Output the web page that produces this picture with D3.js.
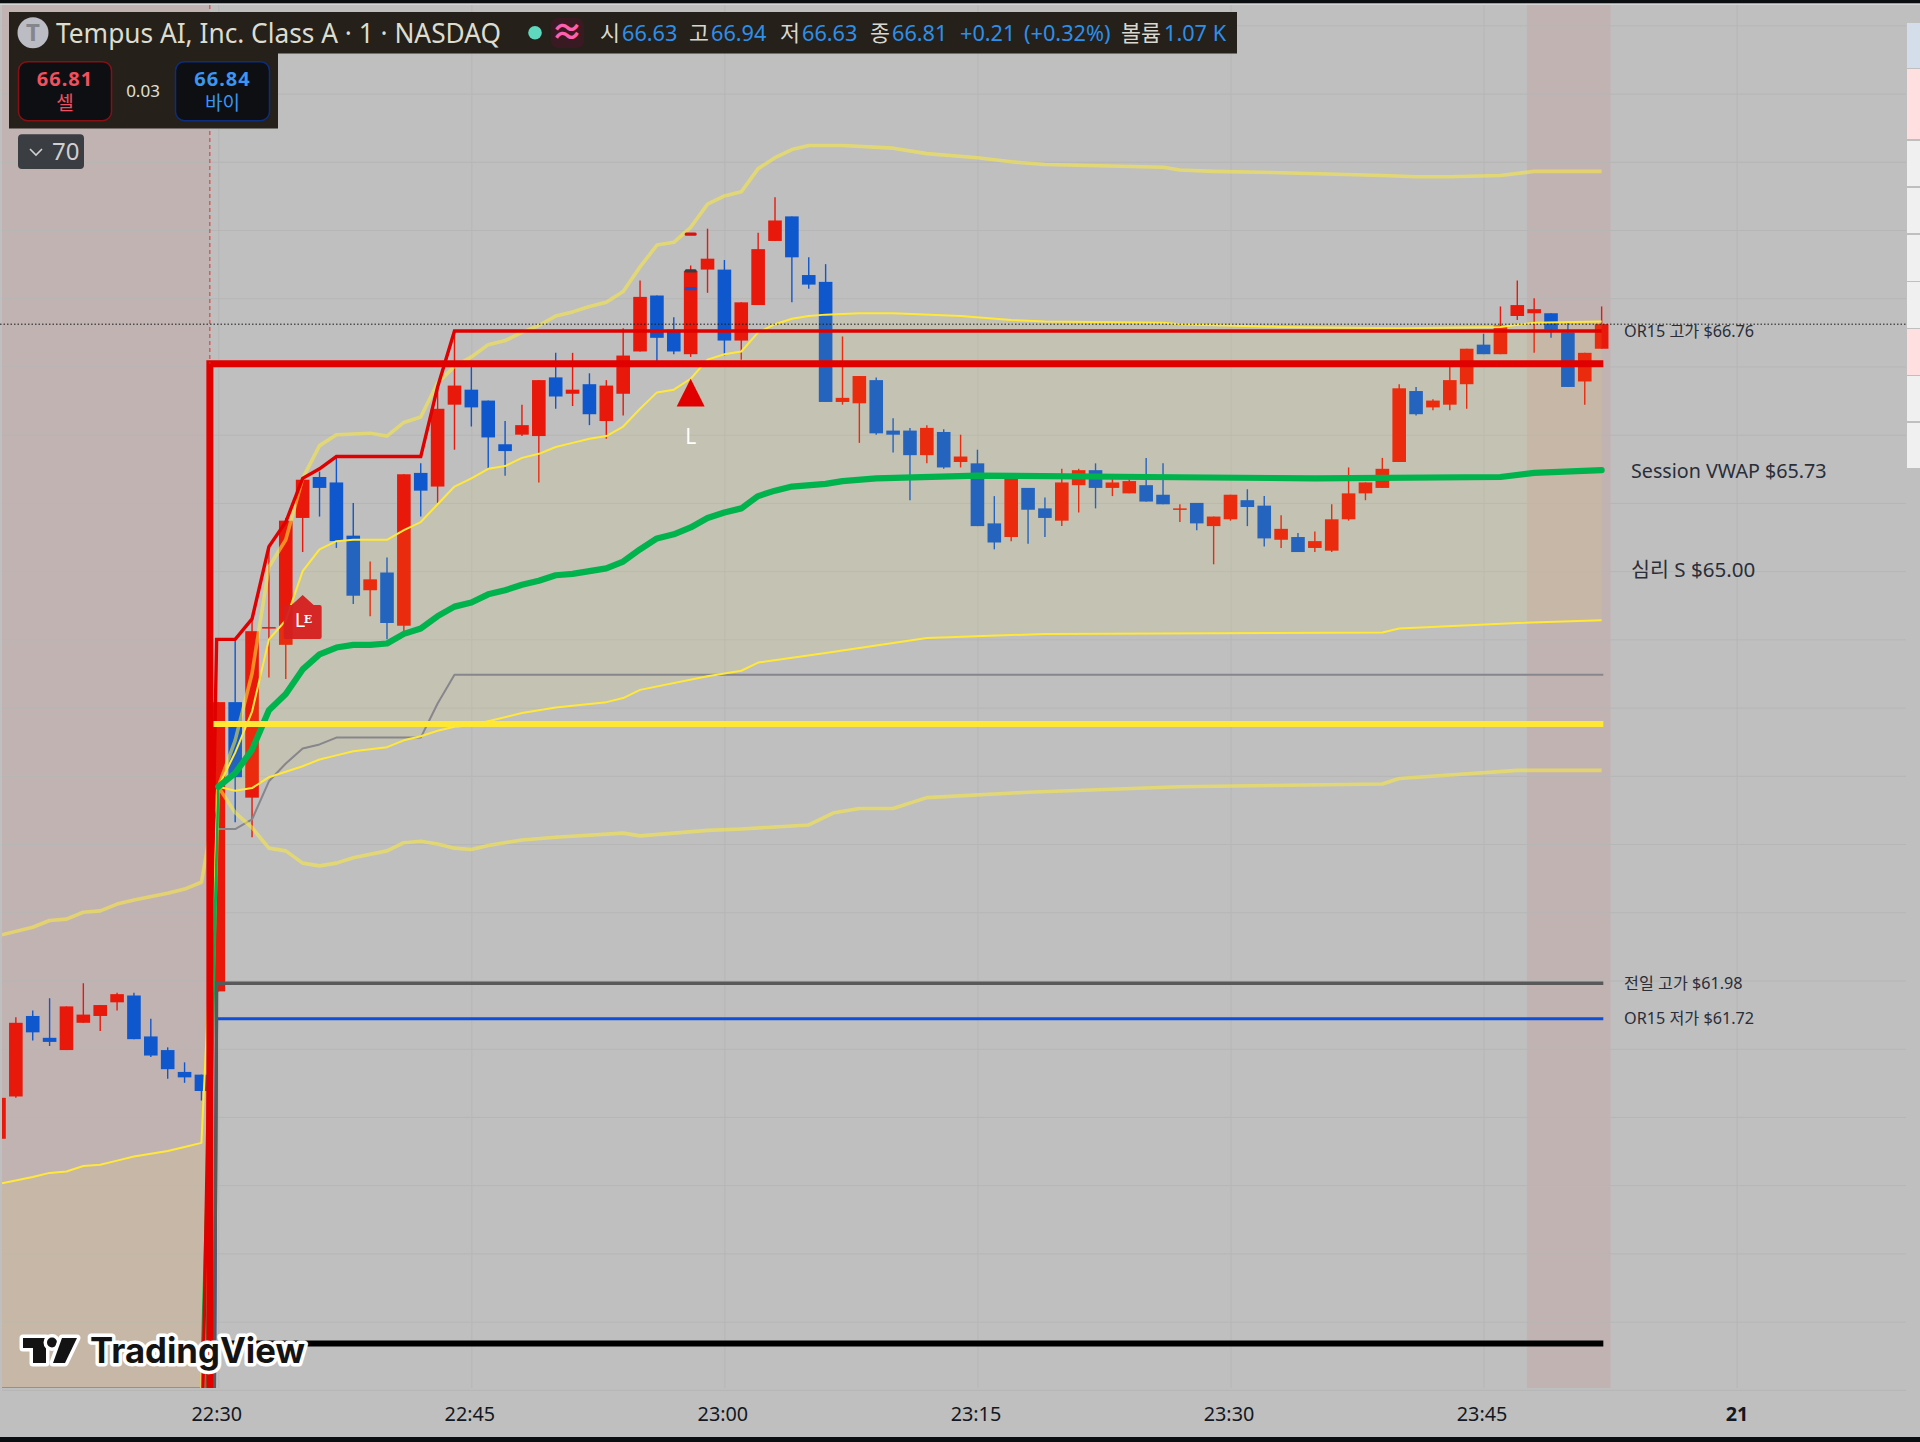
<!DOCTYPE html>
<html>
<head>
<meta charset="utf-8">
<script src="https://cdn.jsdelivr.net/npm/d3@7"></script>
<style>
  html, body { margin: 0; padding: 0; background: #bfbfbf; overflow: hidden; }
  text { font-family: "Noto Sans", "Noto Sans CJK KR", sans-serif; }
</style>
</head>
<body>
<div id="chart"></div>
<script>
// minute bars, bar 0 = 22:30
const firstBar = -13
const opens = [60.84,61.15,61.74,61.58,61.49,61.69,61.74,61.84,61.89,61.59,61.49,61.33,61.31,
  61.92,64.04,63.34,64.58,64.46,65.39,65.69,65.65,65.26,64.86,64.99,64.60,65.72,65.62,66.22,66.33,66.25,65.93,66.00,65.99,
  66.42,66.30,66.37,66.10,66.30,66.61,67.02,66.77,66.59,67.21,67.21,66.69,66.95,67.42,67.60,67.17,67.12,66.24,66.23,66.40,
  66.03,66.03,65.85,66.02,65.80,65.79,65.35,65.25,65.61,65.46,65.37,65.63,65.74,65.61,65.57,65.63,65.56,65.45,65.50,65.33,
  65.38,65.52,65.48,65.23,65.25,65.17,65.15,65.38,65.57,65.61,65.80,66.32,66.20,66.22,66.37,66.66,66.59,66.87,66.89,66.89,66.75,66.39,66.63]
const highs = [61.14,61.73,61.78,61.87,61.81,61.98,61.82,61.91,61.91,61.72,61.51,61.40,61.31,
  64.04,64.50,64.64,65.18,65.39,65.68,65.73,65.83,65.50,65.07,65.10,65.71,65.79,66.35,66.76,66.50,66.25,66.10,66.22,66.40,
  66.60,66.60,66.45,66.40,66.78,67.13,67.02,66.86,67.24,67.51,67.28,66.97,67.48,67.74,67.60,67.30,67.25,66.72,66.43,66.42,
  66.12,66.05,66.07,66.04,66.00,65.89,65.55,65.68,65.61,65.54,65.75,65.75,65.79,65.70,65.68,65.83,65.79,65.49,65.50,65.40,
  65.56,65.60,65.55,65.41,65.28,65.29,65.49,65.76,65.65,65.83,66.37,66.35,66.26,66.50,66.63,66.74,66.94,67.13,67.00,66.89,66.82,66.60,66.94]
const lows = [60.84,61.14,61.56,61.52,61.49,61.69,61.63,61.78,61.57,61.44,61.28,61.25,61.12,
  61.92,63.16,63.05,64.22,64.21,65.14,65.40,65.17,64.76,64.67,64.50,64.56,65.40,65.50,65.89,66.06,65.75,65.70,65.99,65.65,
  66.19,66.21,66.07,65.97,66.14,66.61,66.54,66.59,66.57,67.04,66.58,66.55,66.95,67.42,66.97,67.07,66.24,66.22,65.94,66.00,
  65.87,65.52,65.79,65.75,65.76,65.33,65.16,65.22,65.20,65.25,65.33,65.43,65.46,65.55,65.57,65.51,65.49,65.36,65.30,65.05,
  65.37,65.33,65.18,65.17,65.14,65.14,65.14,65.37,65.52,65.61,65.80,66.14,66.18,66.18,66.19,66.59,66.59,66.84,66.60,66.71,66.35,66.22,66.63]
const closes = [61.14,61.69,61.62,61.55,61.81,61.75,61.82,61.90,61.57,61.45,61.35,61.29,61.19,
  64.04,63.49,64.56,64.59,65.37,65.67,65.61,65.22,64.82,64.94,64.62,65.71,65.59,66.19,66.36,66.20,65.98,65.88,66.07,66.40,
  66.28,66.33,66.15,66.36,66.58,67.01,66.71,66.61,67.20,67.29,66.69,66.97,67.36,67.57,67.30,67.10,66.24,66.27,66.43,66.01,
  66.00,65.85,66.05,65.76,65.84,65.33,65.21,65.68,65.45,65.39,65.65,65.74,65.61,65.65,65.66,65.51,65.49,65.46,65.35,65.40,
  65.56,65.47,65.24,65.31,65.14,65.22,65.38,65.57,65.65,65.75,66.34,66.15,66.25,66.40,66.63,66.59,66.80,66.95,66.92,66.77,66.35,66.60,66.81]

// indicator lines as [bar, price]
const vwap = [[0,63.42],[1,63.52],[2,63.69],[3,63.98],[4,64.10],[5,64.28],[6,64.39],[7,64.44],[8,64.46],[9,64.46],[10,64.47],
  [11,64.54],[12,64.58],[13,64.67],[14,64.74],[15,64.77],[16,64.83],[17,64.86],[18,64.90],[19,64.93],[20,64.97],[21,64.98],[22,65.00],[23,65.02],
  [24,65.07],[25,65.16],[26,65.24],[27,65.27],[28,65.32],[29,65.39],[30,65.43],[31,65.46],[32,65.55],[33,65.59],[34,65.62],[36,65.64],[37,65.66],
  [39,65.68],[45,65.70],[55,65.69],[65,65.68],[76,65.69],[78,65.72],[82,65.74]]
const vwapLeadA = [[-1,59.2],[0,63.42]]
const vwapLeadB = [[-1,57.46],[0,63.42]]
const upperPale = [[-13,62.33],[-11,62.39],[-10,62.44],[-9,62.45],[-8,62.50],[-7,62.51],[-6,62.56],[-5,62.59],[-3,62.64],[-2,62.67],[-1,62.72],
  [0,63.42],[1,63.76],[2,64.25],[3,65.03],[4,65.23],[5,65.68],[6,65.92],[7,66.00],[9,66.01],[10,65.99],[11,66.09],[12,66.13],[13,66.38],[14,66.50],
  [15,66.57],[16,66.66],[17,66.69],[18,66.75],[19,66.80],[20,66.87],[21,66.90],[22,66.94],[23,66.97],[24,67.05],[25,67.23],[26,67.39],[27,67.41],
  [28,67.52],[29,67.69],[30,67.75],[31,67.78],[32,67.95],[33,68.03],[34,68.09],[35,68.12],[37,68.12],[40,68.10],[42,68.06],[45,68.03],[47,68.00],
  [49,67.98],[56,67.96],[57,67.94],[59,67.93],[63,67.92],[69,67.90],[71,67.89],[73,67.89],[76,67.90],[78,67.93],[82,67.93]]
const upperThin = [[-13,60.51],[-11,60.56],[-10,60.59],[-9,60.60],[-8,60.64],[-7,60.65],[-6,60.68],[-5,60.71],[-3,60.75],[-2,60.78],[-1,60.81],
  [0,63.42],[1,63.67],[2,63.97],[3,64.50],[4,64.64],[5,65.00],[6,65.16],[7,65.22],[8,65.23],[10,65.23],[11,65.30],[12,65.36],[13,65.49],[14,65.62],
  [15,65.68],[16,65.75],[17,65.77],[18,65.83],[19,65.86],[20,65.91],[21,65.94],[22,65.97],[23,65.99],[24,66.06],[25,66.19],[26,66.31],[27,66.33],
  [28,66.41],[29,66.55],[30,66.59],[31,66.61],[32,66.75],[33,66.81],[34,66.85],[35,66.87],[36,66.88],[38,66.89],[40,66.89],[44,66.87],[47,66.84],
  [49,66.83],[56,66.82],[57,66.81],[63,66.79],[70,66.78],[76,66.79],[78,66.82],[82,66.83]]
const lowerThin = [[-13,58.5],[-1,58.5],[0,63.42],[1,63.39],[2,63.41],[3,63.49],[4,63.53],[5,63.57],[6,63.62],[7,63.65],[8,63.68],[10,63.71],[11,63.76],
  [12,63.79],[13,63.83],[14,63.86],[15,63.87],[16,63.90],[18,63.96],[20,64.00],[23,64.04],[24,64.07],[25,64.13],[29,64.23],[31,64.27],[32,64.33],
  [36,64.40],[42,64.51],[49,64.54],[69,64.55],[70,64.58],[77,64.62],[82,64.64]]
const lowerPale = [[-1,58.96],[0,63.42],[1,63.23],[2,63.12],[3,62.97],[4,62.95],[5,62.86],[6,62.84],[7,62.86],[8,62.90],[10,62.95],[11,63.01],[12,63.02],
  [13,63.00],[14,62.97],[15,62.96],[16,62.99],[18,63.03],[20,63.05],[24,63.08],[25,63.06],[27,63.08],[29,63.10],[31,63.11],[35,63.14],[36.5,63.23],
  [38,63.26],[40,63.26],[42,63.34],[48,63.38],[57,63.42],[69,63.44],[70,63.48],[77,63.54],[82,63.54]]
const orHighStep = [[-1,58.38],[-0.1,64.50],[1,64.50],[2,64.65],[3,65.18],[4,65.36],[5,65.68],[6,65.75],[7,65.84],[12,65.84],[13,66.35],[14,66.76],[82,66.76]]
const grayStep = [[-1,58.96],[-0.1,63.11],[1,63.11],[2,63.18],[3,63.46],[4,63.59],[5,63.70],[6,63.73],[7,63.78],[12,63.78],[13,64.03],[14,64.24],[82.1,64.24]]
const thickRed = [[-0.5,42],[-0.5,66.52],[82.1,66.52]]
const thickYellow = [[-0.3,63.88],[82.1,63.88]]
const prevHigh = [[-1,42.2],[-0.1,61.98],[82.1,61.98]]
const orLow = [[-1,42.2],[-0.1,61.72],[82.1,61.72]]
const blackLine = [[-0.1,59.34],[82.1,59.34]]

const priceGrid = d3.range(59, 69.5, 0.5)
const timeTicks = [0, 15, 30, 45, 60, 75, 90]
const timeLabels = ["22:30", "22:45", "23:00", "23:15", "23:30", "23:45", "21"]

const width = 1920, height = 1442
const plot = { left: 2, right: 1906, top: 5, bottom: 1388 }

const x = d3.scaleLinear().domain([0, 90]).range([218.3, 1736.6])
const y = d3.scaleLinear().domain([66.76, 61.72]).range([331, 1018.7])

const svg = d3.select("#chart").append("svg").attr("width", width).attr("height", height).style("display", "block")
svg.append("rect").attr("width", width).attr("height", height).attr("fill", "#bfbfbf")
svg.append("clipPath").attr("id", "plot").append("rect")
  .attr("x", plot.left).attr("y", plot.top).attr("width", plot.right - plot.left).attr("height", plot.bottom - plot.top)

// frame top and bottom
svg.append("rect").attr("width", width).attr("height", 3.5).attr("fill", "#0b0e11")
svg.append("rect").attr("y", 3.5).attr("width", width).attr("height", 1.5).attr("fill", "#d4d4d4")
svg.append("rect").attr("y", 1437).attr("width", width).attr("height", 5).attr("fill", "#0b0e11")

// out of session shading
const sessionShade = [[-14, -0.5], [77.57, 82.53]]
svg.append("g").selectAll("rect").data(sessionShade).join("rect")
  .attr("x", d => Math.max(plot.left, x(d[0]))).attr("y", plot.top)
  .attr("width", d => x(d[1]) - Math.max(plot.left, x(d[0]))).attr("height", plot.bottom - plot.top)
  .attr("fill", "rgba(255,0,0,0.06)")

// grid through d3 axes
const gridY = svg.append("g").attr("transform", `translate(${plot.left},0)`)
  .call(d3.axisRight(y).tickValues(priceGrid).tickSize(plot.right - plot.left).tickFormat(""))
gridY.select(".domain").remove()
gridY.selectAll("line").attr("stroke", "#b6b6b6").attr("stroke-width", 1)

const axisX = svg.append("g").attr("transform", `translate(0,${plot.bottom})`)
  .call(d3.axisBottom(x).tickValues(timeTicks).tickSize(plot.top - plot.bottom).tickPadding(-1)
    .tickFormat((d, i) => timeLabels[i]))
axisX.select(".domain").remove()
axisX.selectAll("line").attr("stroke", "#b6b6b6").attr("stroke-width", 1)
axisX.selectAll("text").attr("y", 18.5).attr("fill", "#131722").attr("font-size", 19.8)
  .attr("dx", d => d === 90 ? 0 : -2)
  .attr("font-weight", d => d === 90 ? 700 : 400)

const chart = svg.append("g").attr("clip-path", "url(#plot)")

// candles
const bars = opens.map((o, i) => ({ bar: firstBar + i, o, h: highs[i], l: lows[i], c: closes[i] }))
const barColor = d => d.c >= d.o ? "#e8190a" : "#0f57cc"
const candles = chart.append("g").selectAll("g").data(bars).join("g")
candles.append("line")
  .attr("x1", d => x(d.bar)).attr("x2", d => x(d.bar))
  .attr("y1", d => y(d.h)).attr("y2", d => y(d.l))
  .attr("stroke", barColor).attr("stroke-width", 1.4)
candles.append("rect")
  .attr("x", d => x(d.bar) - 6.8).attr("width", 13.6)
  .attr("y", d => y(Math.max(d.o, d.c)))
  .attr("height", d => Math.max(1.5, Math.abs(y(d.o) - y(d.c))))
  .attr("fill", barColor)

const line = d3.line().x(d => x(d[0])).y(d => y(d[1]))

// band fill sits over the candles, it tints them
chart.append("path")
  .attr("d", line(upperThin.concat(lowerThin.slice().reverse())) + "Z")
  .attr("fill", "rgba(255,235,59,0.09)")

const drawLine = (data, color, w, extra) => {
  const p = chart.append("path").attr("d", line(data)).attr("fill", "none")
    .attr("stroke", color).attr("stroke-width", w).attr("stroke-linejoin", "round")
  if (extra) extra(p)
  return p
}
drawLine(grayStep, "#86868c", 2)
drawLine(upperPale, "#ffeb3b", 3.6, p => p.attr("stroke-opacity", 0.55))
drawLine(lowerPale, "#ffeb3b", 3.6, p => p.attr("stroke-opacity", 0.55))
drawLine(upperThin, "#ffe83a", 2)
drawLine(lowerThin, "#ffe83a", 2)
drawLine(vwapLeadA, "#00b34d", 2)
drawLine(orHighStep, "#e00000", 3.4, p => p.attr("stroke-linejoin", "miter"))
drawLine(vwapLeadB, "#00b34d", 2)
drawLine(blackLine, "#000000", 6)
drawLine(orLow, "#0d4fd8", 3)
drawLine(prevHigh, "#595959", 3.4, p => p.attr("stroke-linejoin", "miter"))
drawLine(vwap, "#00b34d", 6.2, p => p.attr("stroke-linecap", "round"))
drawLine(thickYellow, "#ffe835", 6)
drawLine(thickRed, "#e00000", 7, p => p.attr("stroke-linejoin", "miter"))

// thin red edge under pre market fill, dashed cursor, last price dots
svg.append("line").attr("x1", plot.left).attr("x2", 200).attr("y1", 1387.5).attr("y2", 1387.5)
  .attr("stroke", "#e07070").attr("stroke-width", 1)
svg.append("line").attr("x1", x(-0.5)).attr("x2", x(-0.5)).attr("y1", plot.top).attr("y2", y(66.52))
  .attr("stroke", "#e03030").attr("stroke-width", 1).attr("stroke-dasharray", "4 3")
svg.append("line").attr("x1", 0).attr("x2", plot.right).attr("y1", y(66.81)).attr("y2", y(66.81))
  .attr("stroke", "#1a1a1a").attr("stroke-width", 1).attr("stroke-dasharray", "1.5 2")

// signal marks on bar 28
const sigX = x(28)
svg.append("path").attr("d", `M${sigX},${y(66.41)}l14,27.7h-28Z`).attr("fill", "#e00000")
svg.append("text").attr("x", sigX).attr("y", 444).attr("text-anchor", "middle")
  .attr("fill", "#fff").attr("font-size", 21).text("L")
const ticks = [[67.47, "#d81010"], [67.07, "#0f50d8"], [67.20, "#3a3a40"]]
svg.append("g").selectAll("rect").data(ticks).join("rect")
  .attr("x", sigX - 6).attr("y", d => y(d[0]) - 1.6).attr("width", 12).attr("height", 3.2).attr("rx", 1.5)
  .attr("fill", d => d[1])

// LE badge
const leX = x(5)
svg.append("path")
  .attr("d", `M${leX},595l11,10h6q2,0 2,2v30q0,2 -2,2h-34q-2,0 -2,-2v-30q0,-2 2,-2h6Z`)
  .attr("fill", "#d42020").attr("fill-opacity", 0.96)
svg.append("text").attr("x", leX - 8).attr("y", 627).attr("fill", "#fff").attr("font-size", 20).text("L")
svg.append("text").attr("x", leX + 1).attr("y", 623).attr("fill", "#fff").attr("font-size", 11)
  .style("font-family", "'DejaVu Serif', serif").attr("font-weight", 700).text("E")

// price labels on the right
const priceLabels = [
  { text: "OR15 고가 $66.76", price: 66.76, px: 1624, size: 16.2 },
  { text: "Session VWAP $65.73", price: 65.73, px: 1631, size: 19.7 },
  { text: "심리 S $65.00", price: 65.01, px: 1631, size: 20.6 },
  { text: "전일 고가 $61.98", price: 61.98, px: 1624, size: 16.2 },
  { text: "OR15 저가 $61.72", price: 61.72, px: 1624, size: 16.2 }
]
svg.append("g").selectAll("text").data(priceLabels).join("text")
  .attr("x", d => d.px).attr("y", d => y(d.price)).attr("dy", "0.35em")
  .attr("font-size", d => d.size).attr("fill", "#2a2e39").text(d => d.text)

// side buttons
const sideRows = [[23, 68, "#d3deea"], [69, 139, "#ffdfe0"], [141, 186, "#f0f0f0"], [188, 233, "#f0f0f0"], [235, 281, "#f0f0f0"],
  [282, 328, "#f0f0f0"], [329, 375, "#ffdfe0"], [376, 421, "#f0f0f0"], [423, 468, "#f0f0f0"]]
svg.append("g").selectAll("rect").data(sideRows).join("rect")
  .attr("x", plot.right + 1).attr("y", d => d[0]).attr("width", 13).attr("height", d => d[1] - d[0]).attr("fill", d => d[2])

// legend panel
const panel = "#25201a"
svg.append("rect").attr("x", 9).attr("y", 12).attr("width", 1228).attr("height", 41.5).attr("fill", panel)
svg.append("rect").attr("x", 9).attr("y", 53).attr("width", 269).attr("height", 75.5).attr("fill", panel)
svg.append("circle").attr("cx", 33).attr("cy", 32.7).attr("r", 15.5).attr("fill", "#bcbcc4")
svg.append("text").attr("x", 33).attr("y", 41).attr("text-anchor", "middle").attr("font-size", 24).attr("font-weight", 700)
  .attr("fill", "#85858c").text("T")
svg.append("text").attr("x", 56).attr("y", 42.5).attr("font-size", 27.5).attr("fill", "#dcdccf")
  .attr("textLength", 445).attr("lengthAdjust", "spacingAndGlyphs").text("Tempus AI, Inc. Class A · 1 · NASDAQ")
svg.append("circle").attr("cx", 535).attr("cy", 32.7).attr("r", 6.8).attr("fill", "#5fd8c0")
svg.append("rect").attr("x", 551).attr("y", 18).attr("width", 33).attr("height", 30).attr("rx", 7).attr("fill", "#3a1a22")
svg.append("text").attr("x", 567).attr("y", 43).attr("text-anchor", "middle").attr("font-size", 32).attr("font-weight", 700)
  .attr("fill", "#ff5fae").text("≈")

const legendLabels = [["시", 600], ["고", 689], ["저", 780], ["종", 870], ["볼륨", 1121]]
const legendValues = [["66.63", 622], ["66.94", 711], ["66.63", 802], ["66.81", 892], ["+0.21", 960], ["(+0.32%)", 1024], ["1.07 K", 1164]]
svg.append("g").selectAll("text").data(legendLabels).join("text")
  .attr("x", d => d[1]).attr("y", 41).attr("font-size", 21.7).attr("fill", "#d8d8d0").text(d => d[0])
svg.append("g").selectAll("text").data(legendValues).join("text")
  .attr("x", d => d[1]).attr("y", 41).attr("font-size", 21.7).attr("fill", "#2e8fe8").text(d => d[0])

// sell / buy boxes
const quotes = [
  { px: 18.5, w: 93, stroke: "#8a0f14", color: "#f0505f", price: "66.81", label: "셀" },
  { px: 175.5, w: 94, stroke: "#0d2e80", color: "#3a96f0", price: "66.84", label: "바이" }
]
quotes.forEach(q => {
  svg.append("rect").attr("x", q.px).attr("y", 61.7).attr("width", q.w).attr("height", 59).attr("rx", 9)
    .attr("fill", "#0d0f12").attr("stroke", q.stroke).attr("stroke-width", 1.5)
  svg.append("text").attr("x", q.px + q.w / 2).attr("y", 86).attr("text-anchor", "middle")
    .attr("font-size", 20).attr("font-weight", 700).attr("letter-spacing", 1).attr("fill", q.color).text(q.price)
  svg.append("text").attr("x", q.px + q.w / 2).attr("y", 110).attr("text-anchor", "middle")
    .attr("font-size", 19).attr("fill", q.color).text(q.label)
})
svg.append("text").attr("x", 143).attr("y", 96.5).attr("text-anchor", "middle").attr("font-size", 17)
  .attr("fill", "#e0e0d8").text("0.03")

// collapse button
svg.append("rect").attr("x", 18).attr("y", 134.3).attr("width", 66).attr("height", 34.7).attr("rx", 4).attr("fill", "#3a3d42")
svg.append("path").attr("d", "M30,149l6,6l6,-6").attr("fill", "none").attr("stroke", "#d0d0d0").attr("stroke-width", 1.6)
svg.append("text").attr("x", 52).attr("y", 159.5).attr("font-size", 24).attr("fill", "#d0d0d0").text("70")

// TradingView logo
const logo = svg.append("g").attr("stroke", "#fff").attr("stroke-width", 7).attr("paint-order", "stroke")
  .attr("stroke-linejoin", "round").attr("fill", "#131313")
logo.append("path").attr("d", "M23,1338H46V1363H33V1348H23Z")
logo.append("circle").attr("cx", 52).attr("cy", 1342.5).attr("r", 5)
logo.append("path").attr("d", "M62,1338H77L65,1363H53Z")
logo.append("text").attr("x", 90).attr("y", 1363).attr("font-size", 35).attr("font-weight", 700)
  .style("font-family", "Inter, sans-serif")
  .attr("textLength", 215).attr("lengthAdjust", "spacingAndGlyphs").text("TradingView")
</script>
</body>
</html>
